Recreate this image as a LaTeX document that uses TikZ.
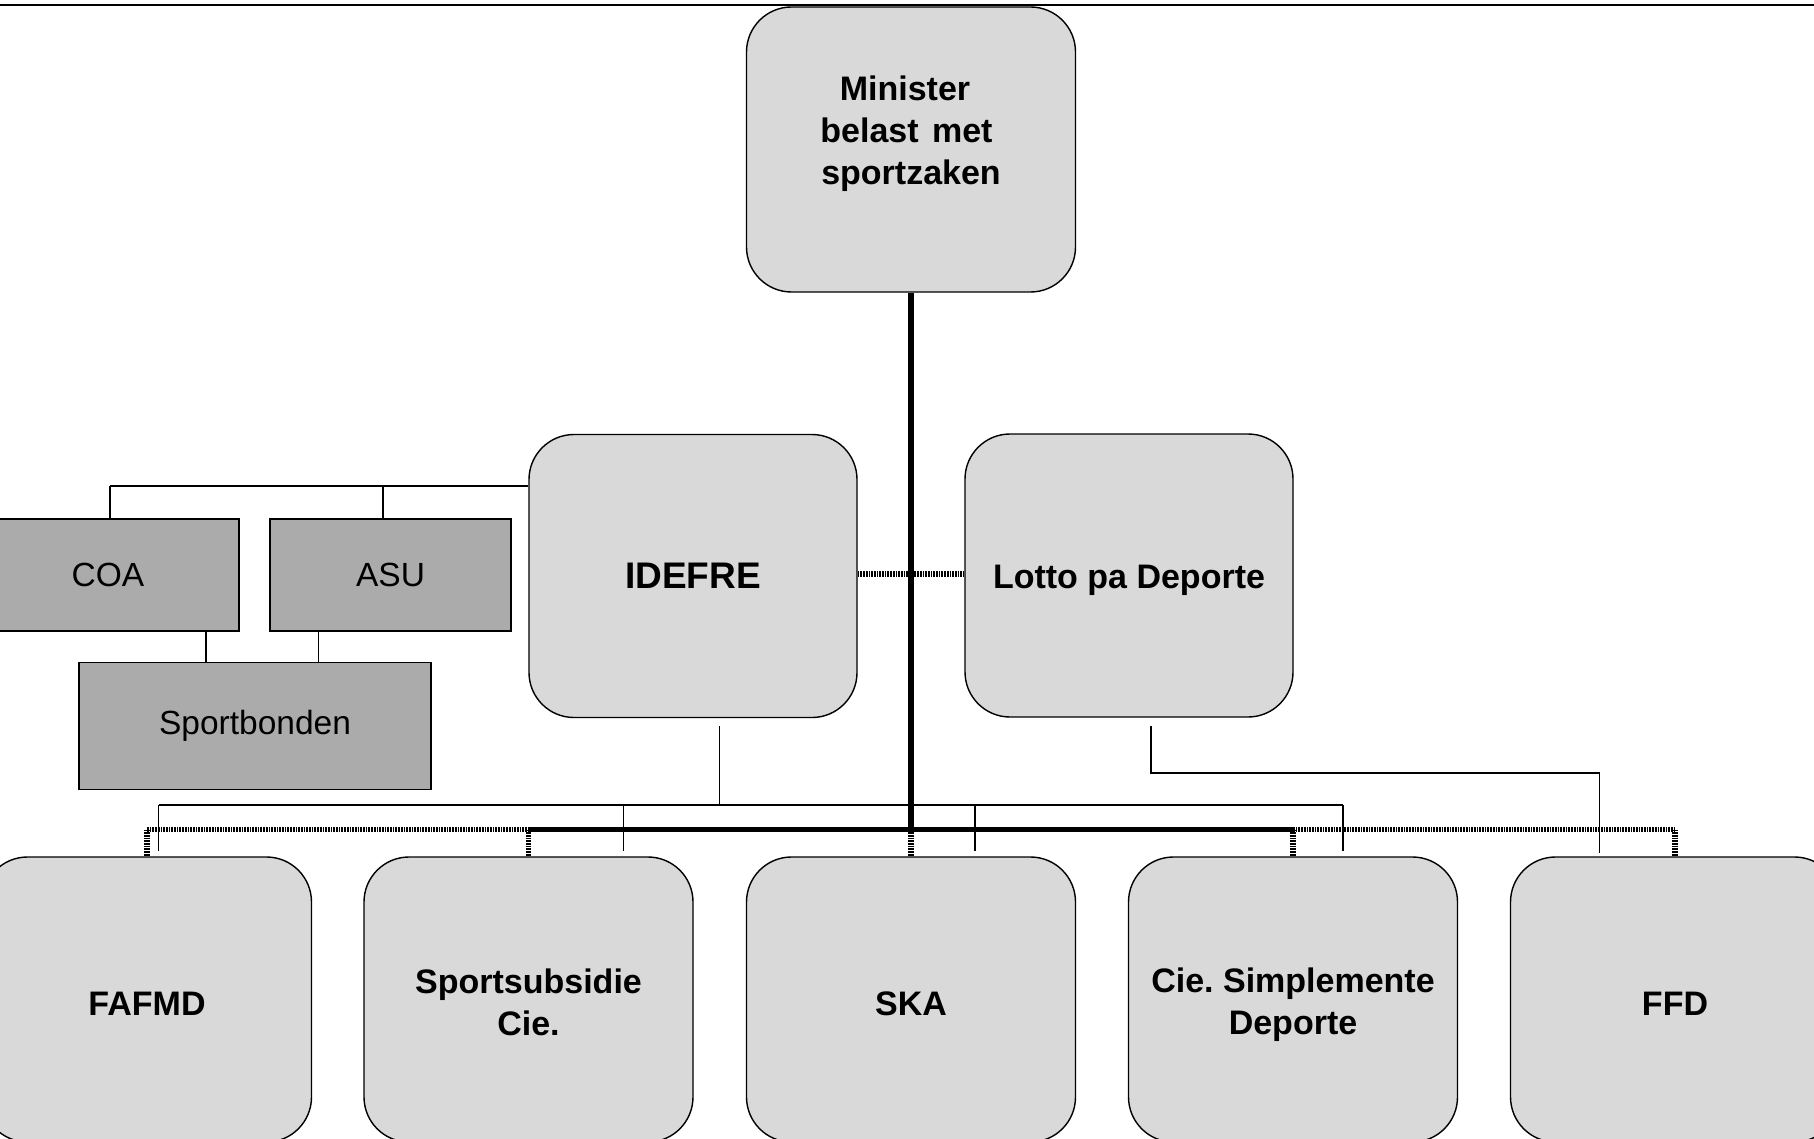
\documentclass[tikz,border=0pt]{standalone}
\usepackage{fontspec}
\setmainfont{Liberation Sans}
\definecolor{boxlight}{HTML}{D9D9D9}
\definecolor{boxdark}{HTML}{ABABAB}
\begin{document}
\frenchspacing
\begin{tikzpicture}[x=1pt,y=-1pt,
  rbox/.style={draw=black, line width=1.4pt, fill=boxlight, rounded corners=45pt,
    minimum width=329pt, minimum height=285pt, inner sep=0pt, align=center,
    font=\bfseries\fontsize{34}{42}\selectfont},
  gbox/.style={draw=black, line width=1.3pt, fill=boxdark, inner sep=0pt, align=center,
    font=\fontsize{33.5}{40}\selectfont},
  lbl/.style={align=center, inner sep=0pt, font=\bfseries\fontsize{34}{42}\selectfont},
  txt/.style 2 args={label={[lbl, yshift=#1]center:#2}},
  thinline/.style={draw=black, line width=1.2pt},
  thickline/.style={draw=black, line width=6pt},
  barsolid/.style={draw=black, line width=5.5pt},
  barhatch/.style={draw=black, line width=5.5pt, dash pattern=on 1.7pt off 1pt},
  dropline/.style={draw=black, line width=5.5pt, dash pattern=on 1.7pt off 1pt},
]
\clip (0,0) rectangle (1814,1139);
\fill[white] (0,0) rectangle (1814,1139);
\draw[line width=1.5pt] (0,5) -- (1814,5);

% top
\node[rbox, txt={15.4pt}{Minister\rule{12pt}{0pt}\\belast\hspace{4pt} met\rule{9pt}{0pt}\\sportzaken}] (min) at (911,149.5) {};

% middle
\node[rbox, minimum width=328pt, minimum height=283pt, font=\bfseries\fontsize{37}{44}\selectfont] (idefre) at (693,576) {IDEFRE};
\node[rbox, minimum width=328pt, minimum height=283pt, txt={-4.6pt}{Lotto pa Deporte}] (lotto) at (1129,575.5) {};

% gray boxes
\node[gbox, minimum width=262pt, minimum height=112pt] (coa) at (108,575) {COA};
\node[gbox, minimum width=241pt, minimum height=112pt] (asu) at (390.5,575) {ASU};
\node[gbox, minimum width=352pt, minimum height=127pt] (spb) at (255,726) {Sportbonden};

% bottom row
\node[rbox, txt={-4.6pt}{FAFMD}] (fafmd) at (147,999.5) {};
\node[rbox, txt={-3pt}{Sportsubsidie\\Cie.}] (sub) at (528.5,999.5) {};
\node[rbox, txt={-4.6pt}{SKA}] (ska) at (911,999.5) {};
\node[rbox, txt={-5pt}{Cie. Simplemente\\Deporte}] (cie) at (1293,999.5) {};
\node[rbox, txt={-4.6pt}{FFD}] (ffd) at (1675,999.5) {};

% thin bus from IDEFRE
\coordinate (ib0) at (719.5,805);
\coordinate (ibL) at (158.5,805);
\coordinate (ibR) at (1343,805);
\coordinate (ib2) at (623.6,805);
\coordinate (ib3) at (975,805);
\draw[thinline, shorten <=8pt] (idefre.south -| ib0) -- (ib0);
\draw[thinline] (ibL) -- (ibR);
\foreach \c/\n in {ibL/fafmd, ib2/sub, ib3/ska, ibR/cie}
  \draw[thinline, shorten >=5pt] (\c) -- (\c |- \n.north);

% thin bus from Lotto
\coordinate (lb1) at (1151,773);
\coordinate (lb2) at (1599.5,773);
\draw[thinline, shorten <=8pt, shorten >=3pt] (lotto.south -| lb1) -- (lb1) -- (lb2) -- (lb2 |- ffd.north);

% gray connectors
\coordinate (gb1) at (110,486);
\coordinate (gb2) at (383,486);
\draw[thinline] (gb1) -- (gb1 -| idefre.west);
\draw[thinline] (gb1) -- (gb1 |- coa.north);
\draw[thinline] (gb2) -- (gb2 |- asu.north);
\coordinate (cs1) at (206,630);
\coordinate (cs2) at (318.6,630);
\draw[thinline] (cs1 |- coa.south) -- (cs1 |- spb.north);
\draw[thinline] (cs2 |- asu.south) -- (cs2 |- spb.north);

% main thick structure
\coordinate (jm) at (911,829.5);
\coordinate (il) at (0,574);
\draw[thickline] (min.south) -- (jm);
\draw[barhatch] (fafmd.north |- jm) -- (sub.north |- jm);
\draw[barsolid] (sub.north |- jm) -- (cie.north |- jm);
\draw[barhatch] (cie.north |- jm) -- (ffd.north |- jm);
\foreach \n in {fafmd,sub,ska,cie,ffd}
  \draw[dropline] (\n.north |- jm) -- (\n.north);
\draw[barhatch, line width=6pt, dash pattern=on 1.7pt off 1pt] (idefre.east |- il) -- (lotto.west |- il);
\end{tikzpicture}
\end{document}
